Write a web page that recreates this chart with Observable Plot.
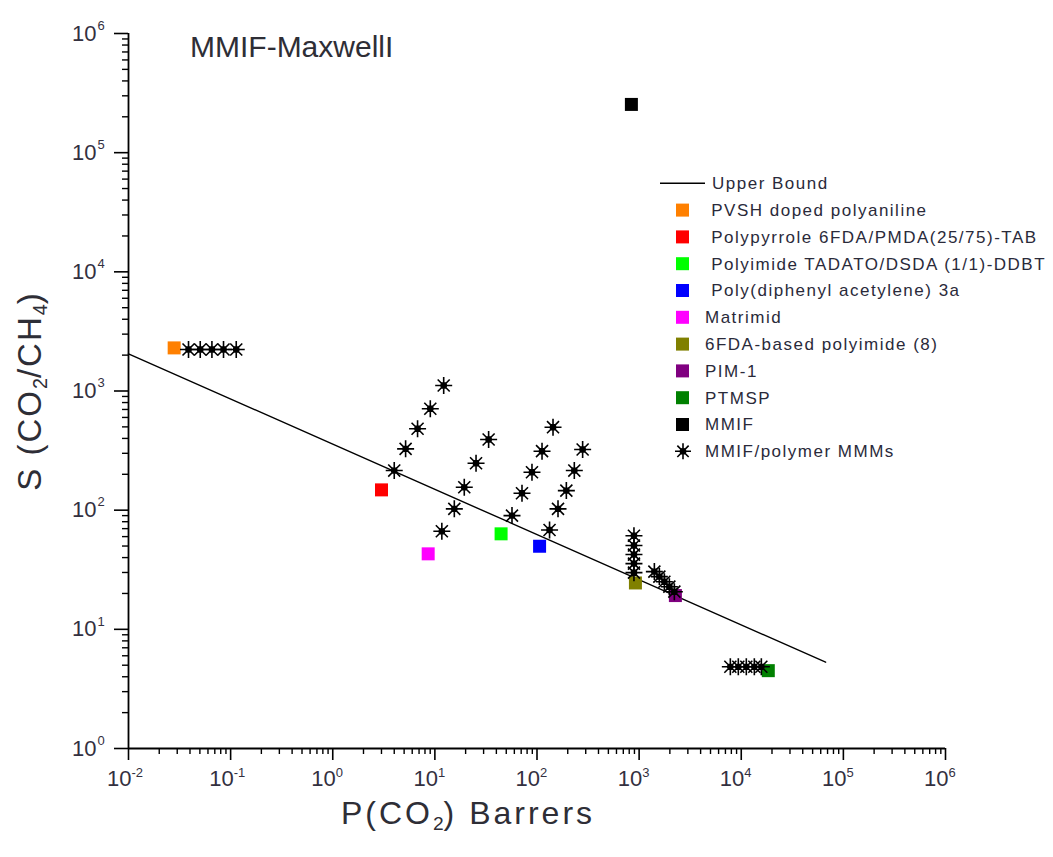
<!DOCTYPE html>
<html>
<head>
<meta charset="utf-8">
<script src="https://cdn.jsdelivr.net/npm/d3@7"></script>
<script src="https://cdn.jsdelivr.net/npm/@observablehq/plot@0.6"></script>
<style>
  html, body { margin: 0; padding: 0; background: #fff; }
  #fig { position: relative; width: 1053px; height: 857px; font-family: "Liberation Sans", Arial, sans-serif; color: #2e2e36; }
  #fig svg.plot { position: absolute; left: 0; top: 0; }
  .title { position: absolute; left: 190px; top: 30px; font-size: 30px; white-space: nowrap; }
  .xtitle { position: absolute; left: 0; width: 936px; text-align: center; top: 795px; font-size: 32px; line-height: 36px; letter-spacing: 3px; white-space: nowrap; }
  .ytitle { position: absolute; left: 30px; top: 391px; font-size: 33px; letter-spacing: 2px; white-space: nowrap; transform: translate(-50%, -50%) rotate(-90deg); }
  .xtitle sub, .ytitle sub { font-size: 0.6em; vertical-align: -0.3em; line-height: 0; letter-spacing: 0; }
  #legend { position: absolute; left: 0; top: 0; }
</style>
</head>
<body>
<div id="fig">
  <div class="title">MMIF-MaxwellI</div>
  <div class="xtitle">P(CO<sub>2</sub>) Barrers</div>
  <div class="ytitle">S (CO<sub>2</sub>/CH<sub>4</sub>)</div>
</div>
<script>
// Robeson-type upper bound, drawn between its two end points
const upperBoundP = [0.01, 67000];
const upperBoundS = [2050, 5.3];

// Neat polymers and the MMIF filler
const polymerNames = [
  " PVSH doped polyaniline",
  " Polypyrrole 6FDA/PMDA(25/75)-TAB",
  " Polyimide TADATO/DSDA (1/1)-DDBT",
  " Poly(diphenyl acetylene) 3a",
  "Matrimid",
  "6FDA-based polyimide (8)",
  "PIM-1",
  "PTMSP",
  "MMIF"
];
const polymerColors = ["#ff8000", "#ff0000", "#00ff00", "#0000ff", "#ff00ff", "#808000", "#800080", "#008000", "#000000"];
const polymerP = [0.028, 3.0, 44.5, 106, 8.6, 920, 2265, 18400, 840];
const polymerS = [2300, 148, 63.3, 49.8, 43, 24.5, 19.2, 4.5, 254000];

// MMIF/polymer mixed-matrix membranes (Maxwell model predictions)
const mmmP = [
  0.0387, 0.0504, 0.0656, 0.0852, 0.1135,
  4.0, 5.17, 6.77, 9.02, 12.2,
  11.7, 15.5, 19.4, 25.3, 33.6,
  56.9, 71.3, 89.3, 112, 143.5,
  132.7, 160.6, 193.8, 231.9, 279.8,
  890, 890, 890, 890, 890,
  1410, 1578, 1767, 1977, 2213,
  7820, 9360, 11210, 13430, 15730
];
const mmmS = [
  2230, 2230, 2230, 2230, 2230,
  215, 327, 482, 710, 1112,
  66.5, 102.6, 155.6, 247.6, 392,
  90, 138.6, 208, 312.6, 497,
  68.2, 102.6, 146, 215, 323,
  61, 50.5, 42.4, 35.6, 29.9,
  30.5, 27.7, 25.1, 22.8, 20.7,
  4.85, 4.85, 4.85, 4.85, 4.85
];

// Axis ticks
const xDecades = [1e-2, 1e-1, 1e0, 1e1, 1e2, 1e3, 1e4, 1e5, 1e6];
const yDecades = [1e0, 1e1, 1e2, 1e3, 1e4, 1e5, 1e6];
const xExponents = ["-2", "-1", "0", "1", "2", "3", "4", "5", "6"];
const yExponents = ["0", "1", "2", "3", "4", "5", "6"];

const minors = (decs) => decs.slice(0, -1).flatMap(d => [2, 3, 4, 5, 6, 7, 8, 9].map(k => k * d));

const upper = upperBoundP.map((p, i) => ({p, s: upperBoundS[i]}));
const polymers = polymerNames.map((name, i) => ({name, p: polymerP[i], s: polymerS[i], color: polymerColors[i]}));
const mmm = mmmP.map((p, i) => ({p, s: mmmS[i]}));

// 8-spoke asterisk with a filled hub
const star8 = {
  draw(ctx, size) {
    const r = Math.sqrt(size / Math.PI);
    for (let k = 0; k < 4; ++k) {
      const a = k * Math.PI / 4;
      ctx.moveTo(r * Math.cos(a), r * Math.sin(a));
      ctx.lineTo(-r * Math.cos(a), -r * Math.sin(a));
    }
    const h = 2.6;
    ctx.moveTo(h, 0);
    ctx.arc(0, 0, h, 0, 2 * Math.PI);
  }
};
// square whose half-side equals the dot radius
const squareSym = {
  draw(ctx, size) {
    const s = Math.sqrt(size / Math.PI);
    ctx.rect(-s, -s, 2 * s, 2 * s);
  }
};

const labelColor = "#33303f";
const font = "Liberation Sans, Arial, sans-serif";

const chart = Plot.plot({
  width: 1053,
  height: 857,
  marginLeft: 128,
  marginRight: 108,
  marginTop: 33,
  marginBottom: 109,
  style: {fontFamily: font, background: "transparent", overflow: "visible"},
  x: {type: "log", domain: [1e-2, 1e6]},
  y: {type: "log", domain: [1, 1e6]},
  marks: [
    // minor and major ticks
    Plot.axisX(minors(xDecades), {tickSize: 6, tickFormat: () => "", label: null, stroke: "#000", strokeWidth: 1.4}),
    Plot.axisX(xDecades, {tickSize: 12, tickFormat: () => "", label: null, stroke: "#000", strokeWidth: 1.6}),
    Plot.axisY(minors(yDecades), {tickSize: 6, tickFormat: () => "", label: null, stroke: "#000", strokeWidth: 1.4}),
    Plot.axisY(yDecades, {tickSize: 14, tickFormat: () => "", label: null, stroke: "#000", strokeWidth: 1.6}),
    // axis lines
    Plot.ruleX([1e-2], {stroke: "#000", strokeWidth: 1.8}),
    Plot.ruleY([1], {stroke: "#000", strokeWidth: 1.8}),
    // tick labels: "10" with a raised exponent
    Plot.text(xDecades, {x: d => d, frameAnchor: "bottom", text: () => "10", textAnchor: "end", dx: 3, dy: 37, fontSize: 22, fill: labelColor}),
    Plot.text(xDecades, {x: d => d, frameAnchor: "bottom", text: (d, i) => xExponents[i], textAnchor: "start", dx: 3, dy: 28, fontSize: 13, fill: labelColor}),
    Plot.text(yDecades, {y: d => d, frameAnchor: "left", text: () => "10", textAnchor: "end", dx: -32, dy: 0, fontSize: 22, fill: labelColor}),
    Plot.text(yDecades, {y: d => d, frameAnchor: "left", text: (d, i) => yExponents[i], textAnchor: "start", dx: -31, dy: -8, fontSize: 13, fill: labelColor}),
    // upper bound
    Plot.line(upper, {x: "p", y: "s", stroke: "#000", strokeWidth: 1.4}),
    // polymers
    Plot.dot(polymers, {x: "p", y: "s", fill: "color", symbol: () => squareSym, r: 6.5, stroke: "none"}),
    // MMMs
    Plot.dot(mmm, {x: "p", y: "s", symbol: () => star8, r: 8.5, stroke: "#000", fill: "#000", strokeWidth: 1.6})
  ]
});
chart.classList.add("plot");
const fig = document.getElementById("fig");
fig.insertBefore(chart, fig.firstChild);

// Legend inside the plot area
const legend = d3.select("#fig").append("svg")
  .attr("id", "legend").attr("width", 1053).attr("height", 857)
  .style("font-family", font);
const rowY = i => 183.3 + i * 26.8;
legend.append("line").attr("x1", 660).attr("x2", 705).attr("y1", rowY(0)).attr("y2", rowY(0))
  .attr("stroke", "#000").attr("stroke-width", 1.4);
const entries = [{name: "Upper Bound", kind: "line"}]
  .concat(polymers.map(p => ({name: p.name, kind: "square", color: p.color})))
  .concat([{name: "MMIF/polymer MMMs", kind: "star"}]);
entries.forEach((e, i) => {
  const y = rowY(i);
  if (e.kind === "square") {
    legend.append("rect").attr("x", 676).attr("y", y - 6.5).attr("width", 13).attr("height", 13).attr("fill", e.color);
  } else if (e.kind === "star") {
    legend.append("path").attr("transform", `translate(683,${y})`)
      .attr("d", d3.symbol(star8, Math.PI * 8 * 8)())
      .attr("stroke", "#000").attr("fill", "#000").attr("stroke-width", 1.6);
  }
  legend.append("text").attr("x", e.kind === "line" ? 712 : 705).attr("y", y)
    .attr("dy", "0.35em").attr("font-size", 17).attr("letter-spacing", 1.5)
    .attr("fill", "#2a2a3a").style("white-space", "pre")
    .text(e.name);
});
</script>
</body>
</html>
